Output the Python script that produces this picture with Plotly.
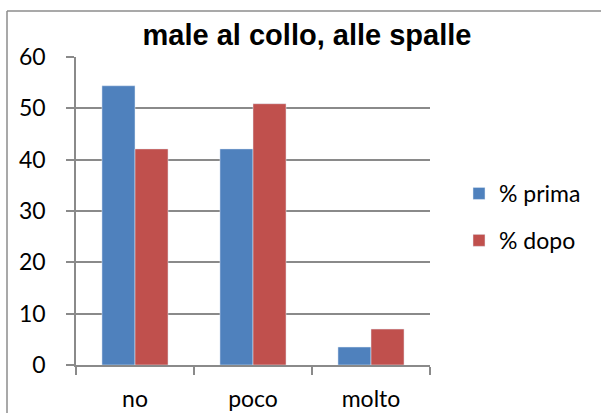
import plotly.graph_objects as go

# Survey answers: neck / shoulder pain before and after
categories = ["no", "poco", "molto"]
prima = [54.4, 42.1, 3.5]
dopo = [42.1, 50.9, 7.0]
series_names = ["% prima", "% dopo"]
y_ticks = [0, 10, 20, 30, 40, 50, 60]

BLUE = "#4F81BD"
RED = "#C0504D"
GRID = "#8A8A8A"

W, H = 601, 413
# plot area in pixels
L, R, T, B = 76, 430, 57, 365


def px_to_paper_x(px):
    return (px - L) / (R - L)


def px_to_paper_y(py):
    return (B - py) / (B - T)


fig = go.Figure()
fig.add_trace(go.Bar(x=categories, y=prima, name=series_names[0],
                     marker_color=BLUE, legendgroup="a"))
fig.add_trace(go.Bar(x=categories, y=dopo, name=series_names[1],
                     marker_color=RED, legendgroup="b"))

font_body = "Lato, 'Open Sans', sans-serif"
FS = 23

fig.update_layout(
    width=W, height=H,
    margin=dict(l=L, r=W - R, t=T, b=H - B, pad=0, autoexpand=False),
    paper_bgcolor="white", plot_bgcolor="white",
    barmode="group", bargap=0.44, bargroupgap=0,
    title=dict(text="<b>male al collo, alle spalle</b>",
               font=dict(family="'Liberation Sans', Arial, sans-serif",
                         size=29, color="black"),
               x=307 / W, xanchor="center", y=1 - 35 / H, yanchor="middle"),
    font=dict(family=font_body, size=FS, color="black"),
    legend=dict(x=px_to_paper_x(459), xanchor="left",
                y=px_to_paper_y(172), yanchor="top",
                font=dict(family=font_body, size=FS, color="black"),
                tracegroupgap=14, bgcolor="rgba(0,0,0,0)"),
    showlegend=True,
)

fig.update_xaxes(
    type="category", showline=True, linecolor=GRID, linewidth=1.5,
    ticks="outside", tickson="boundaries", ticklen=8, tickcolor=GRID,
    tickwidth=1.5, showgrid=False, ticklabelstandoff=13, automargin=False,
    tickfont=dict(family=font_body, size=FS, color="black"),
)
fig.update_yaxes(
    range=[0, 60], tickvals=y_ticks, showline=True, linecolor=GRID,
    linewidth=1.5, ticks="outside", ticklen=8, tickcolor=GRID, tickwidth=1.5,
    showgrid=True, gridcolor=GRID, gridwidth=1.5, zeroline=False,
    ticklabelstandoff=16, automargin=False,
    tickfont=dict(family=font_body, size=FS, color="black"),
)

# chart-area frame: left and top edges
border = dict(color="#8C8C8C", width=1.5)
fig.add_shape(type="line", xref="paper", yref="paper",
              x0=px_to_paper_x(7), x1=px_to_paper_x(7),
              y0=px_to_paper_y(11), y1=px_to_paper_y(H + 5), line=border)
fig.add_shape(type="line", xref="paper", yref="paper",
              x0=px_to_paper_x(7), x1=px_to_paper_x(W + 5),
              y0=px_to_paper_y(11), y1=px_to_paper_y(11), line=border)

fig.write_html("out.html")
